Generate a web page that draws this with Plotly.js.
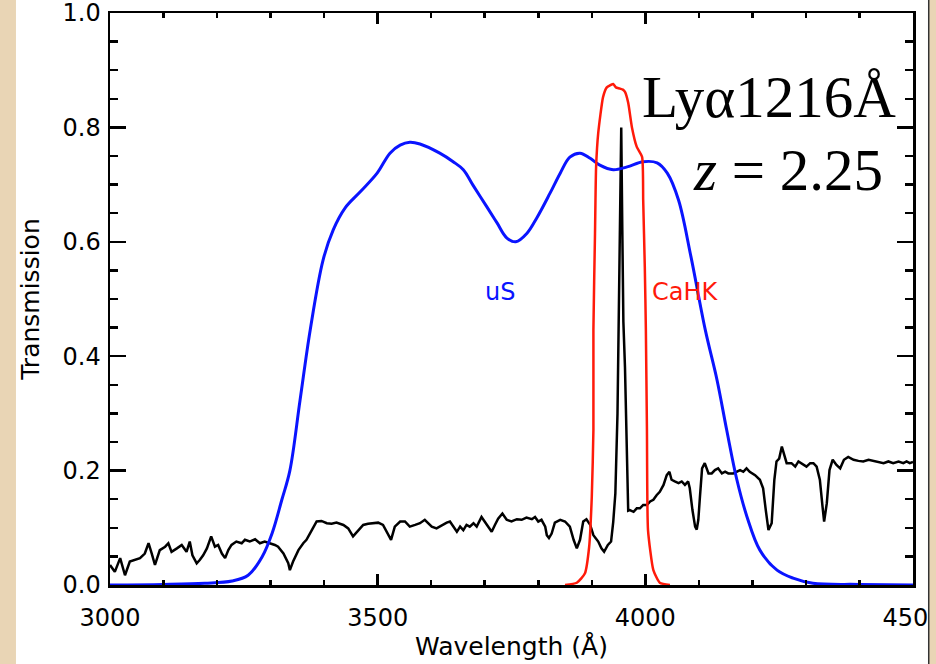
<!DOCTYPE html>
<html>
<head>
<meta charset="utf-8">
<script src="https://cdn.plot.ly/plotly-3.0.1.min.js"></script>
<style>html,body{margin:0;padding:0;background:#fff;}#chart{width:936px;height:664px;}</style>
</head>
<body>
<div id="chart"></div>
<script>
// uS filter transmission
const usWave = [3000,3100,3177,3228,3258,3284,3303,3321,3336,3355,3374,3398,3417,3439,3467,3499,3523,3542,3560,3579,3616,3641,3660,3678,3704,3723,3741,3758,3779,3798,3822,3841,3859,3878,3897,3915,3940,3966,3996,4022,4041,4062,4085,4112,4134,4152,4171,4190,4214,4246,4276,4313,4400,4500];
const usTrans = [0,0.001,0.003,0.007,0.017,0.049,0.091,0.149,0.2,0.323,0.446,0.568,0.621,0.659,0.687,0.72,0.755,0.769,0.774,0.771,0.755,0.74,0.726,0.699,0.661,0.633,0.607,0.6,0.615,0.643,0.685,0.72,0.748,0.755,0.746,0.734,0.726,0.731,0.74,0.738,0.72,0.673,0.575,0.446,0.358,0.271,0.184,0.119,0.061,0.026,0.012,0.003,0.001,0];

// CaHK filter transmission
const cahkWave = [3850,3872,3887,3895,3900,3903,3903,3906,3908,3912,3921,3928,3935,3940,3945,3952,3958,3962,3968,3975,3984,3994,3996,3999,4001,4003,4005,4015,4027,4046];
const cahkTrans = [0,0.004,0.02,0.066,0.155,0.271,0.446,0.615,0.73,0.79,0.853,0.870,0.874,0.876,0.870,0.868,0.866,0.862,0.843,0.80,0.766,0.748,0.673,0.556,0.446,0.271,0.096,0.026,0.004,0];

// Ly-alpha emitter spectrum at z = 2.25
const specWave = [3000,3009,3019,3028,3037,3047,3056,3065,3072,3078,3084,3093,3103,3109,3115,3125,3134,3143,3149,3154,3162,3168,3174,3181,3189,3196,3202,3209,3215,3221,3227,3236,3246,3252,3261,3271,3280,3289,3299,3308,3314,3324,3333,3336,3342,3352,3361,3367,3377,3386,3395,3405,3414,3423,3436,3445,3454,3464,3473,3482,3492,3501,3510,
3520,3525,3532,3542,3551,3560,3570,3579,3588,3595,3601,3610,3620,3629,3635,3641,3648,3654,3660,3666,3672,3679,3685,3694,3700,3707,3713,3719,3725,3733,3741,3750,3760,3769,3778,3788,3794,3800,3806,3813,3816,3820,3825,3831,3841,3850,3859,3866,3872,3878,3884,3890,3897,3903,3912,3918,3923,3930,3936,3940,3944,3948,3951,3953,3955,3957,3959,3962,3965,3968,3971,3978,3984,3990,3996,4003,4009,
4015,4021,4027,4034,4040,4045,4049,4055,4062,4068,4074,4080,4083,4088,4093,4096,4099,4102,4106,4111,4118,4124,4130,4136,4143,4149,4155,4164,4171,4177,4183,4189,4195,4205,4214,4220,4225,4230,4236,4241,4245,4250,4255,4259,4264,4273,4280,4286,4295,4301,4308,4314,4320,4326,4331,4334,4339,4344,4350,4357,4364,4371,4379,4389,4398,4407,4417,4426,4435,4445,4454,4463,4473,4482,4488,4494,4500];
const specFlux = [0.035,0.023,0.047,0.017,0.041,0.044,0.047,0.055,0.073,0.055,0.035,0.061,0.067,0.073,0.058,0.064,0.070,0.058,0.076,0.052,0.038,0.044,0.052,0.064,0.085,0.067,0.070,0.055,0.047,0.061,0.070,0.076,0.073,0.079,0.076,0.080,0.073,0.076,0.073,0.070,0.067,0.055,0.038,0.026,0.041,0.061,0.073,0.079,0.096,0.111,0.112,0.108,0.107,0.109,0.105,0.099,0.085,0.096,0.105,0.107,0.108,0.109,0.105,
0.087,0.079,0.102,0.111,0.111,0.102,0.105,0.108,0.114,0.108,0.102,0.099,0.105,0.109,0.111,0.102,0.093,0.102,0.096,0.105,0.102,0.108,0.102,0.119,0.111,0.102,0.093,0.105,0.116,0.125,0.114,0.111,0.115,0.114,0.118,0.115,0.119,0.111,0.114,0.102,0.087,0.082,0.090,0.109,0.114,0.111,0.102,0.079,0.064,0.079,0.111,0.115,0.105,0.087,0.076,0.064,0.058,0.070,0.076,0.11,0.16,0.30,0.50,0.70,0.80,0.62,0.46,0.38,0.27,0.13,0.131,0.128,0.134,0.134,0.140,0.140,0.146,
0.149,0.157,0.163,0.175,0.192,0.198,0.184,0.181,0.178,0.181,0.175,0.181,0.169,0.131,0.102,0.097,0.114,0.154,0.204,0.213,0.195,0.195,0.201,0.204,0.195,0.198,0.195,0.195,0.198,0.201,0.198,0.204,0.198,0.192,0.184,0.169,0.131,0.096,0.108,0.184,0.216,0.221,0.242,0.227,0.213,0.213,0.207,0.216,0.210,0.207,0.213,0.213,0.207,0.184,0.137,0.111,0.143,0.201,0.219,0.210,0.204,0.219,0.224,0.219,0.217,0.216,0.219,0.217,0.216,0.213,0.216,0.213,0.216,0.213,0.216,0.213,0.215];

const xTickVals = [3000,3500,4000,4500];
const yTickVals = [0,0.2,0.4,0.6,0.8,1.0];

const FONT = '"DejaVu Sans", sans-serif';
const BEIGE = '#e9d5b5';

const traces = [
  {x: specWave, y: specFlux, type: 'scatter', mode: 'lines', line: {color: '#000000', width: 2.5}, hoverinfo: 'skip'},
  {x: usWave, y: usTrans, type: 'scatter', mode: 'lines', line: {color: '#0a14ff', width: 3, shape: 'spline', smoothing: 1}, hoverinfo: 'skip'},
  {x: cahkWave, y: cahkTrans, type: 'scatter', mode: 'lines', line: {color: '#ff1a0a', width: 2.5, shape: 'spline', smoothing: 0.5}, hoverinfo: 'skip'}
];

const layout = {
  width: 936, height: 664,
  margin: {l: 110, r: 23, t: 13, b: 79},
  paper_bgcolor: '#ffffff', plot_bgcolor: '#ffffff',
  showlegend: false,
  font: {family: FONT, size: 24, color: '#000'},
  xaxis: {
    range: [3000, 4500], tickvals: xTickVals, ticktext: xTickVals.map(String),
    showgrid: false, zeroline: false, showline: true, linecolor: '#000', linewidth: 2.5, mirror: 'ticks',
    ticks: 'inside', ticklen: 11, tickwidth: 2.5, tickcolor: '#000',
    minor: {dtick: 100, ticks: 'inside', ticklen: 5, tickwidth: 2.5, tickcolor: '#000', showgrid: false},
    tickfont: {family: FONT, size: 24, color: '#000'},
    ticklabelstandoff: 10,
    ticklabeloverflow: 'allow',
    title: {text: 'Wavelength (Å)', font: {family: FONT, size: 25, color: '#000'}, standoff: 6}
  },
  yaxis: {
    range: [0, 1.0], tickvals: yTickVals, ticktext: yTickVals.map(v => v.toFixed(1)),
    showgrid: false, zeroline: false, showline: true, linecolor: '#000', linewidth: 2.5, mirror: 'ticks',
    ticks: 'inside', ticklen: 16, tickwidth: 2.5, tickcolor: '#000',
    minor: {dtick: 0.05, ticks: 'inside', ticklen: 8, tickwidth: 2.5, tickcolor: '#000', showgrid: false},
    tickfont: {family: FONT, size: 24, color: '#000'},
    ticklabelstandoff: 2,
    ticklabeloverflow: 'allow',
    title: {text: 'Transmission', font: {family: FONT, size: 25, color: '#000'}, standoff: 16}
  },
  annotations: [
    {x: 3728, y: 0.512, xref: 'x', yref: 'y', text: 'uS', showarrow: false, xanchor: 'center', yanchor: 'middle',
     font: {family: FONT, size: 24, color: '#0a14ff'}},
    {x: 4009, y: 0.512, xref: 'x', yref: 'y', text: 'CaHK', showarrow: false, xanchor: 'left', yanchor: 'middle',
     font: {family: FONT, size: 24, color: '#ff1a0a'}},
    {x: 4472, y: 0.853, xref: 'x', yref: 'y', text: 'Lyα1216Å', showarrow: false, xanchor: 'right', yanchor: 'middle',
     font: {family: '"Liberation Serif", "Times New Roman", serif', size: 59, color: '#000'}},
    {x: 4448, y: 0.725, xref: 'x', yref: 'y', text: '<i>z</i> = 2.25', showarrow: false, xanchor: 'right', yanchor: 'middle',
     font: {family: '"Liberation Serif", "Times New Roman", serif', size: 59, color: '#000'}}
  ],
  shapes: [
    {type: 'rect', xref: 'paper', yref: 'paper', x0: -0.2, x1: -0.1171, y0: -0.3, y1: 1.1, fillcolor: BEIGE, line: {width: 0}, layer: 'above'},
    {type: 'rect', xref: 'paper', yref: 'paper', x0: 1.0200, x1: 1.1, y0: -0.3, y1: 1.1, fillcolor: BEIGE, line: {width: 0}, layer: 'above'},
    {type: 'line', xref: 'paper', yref: 'paper', x0: 1.0196, x1: 1.0196, y0: -0.3, y1: 1.1, line: {color: '#333333', width: 1.5}, layer: 'above'}
  ]
};

Plotly.newPlot('chart', traces, layout, {staticPlot: true, displayModeBar: false});
</script>
</body>
</html>
